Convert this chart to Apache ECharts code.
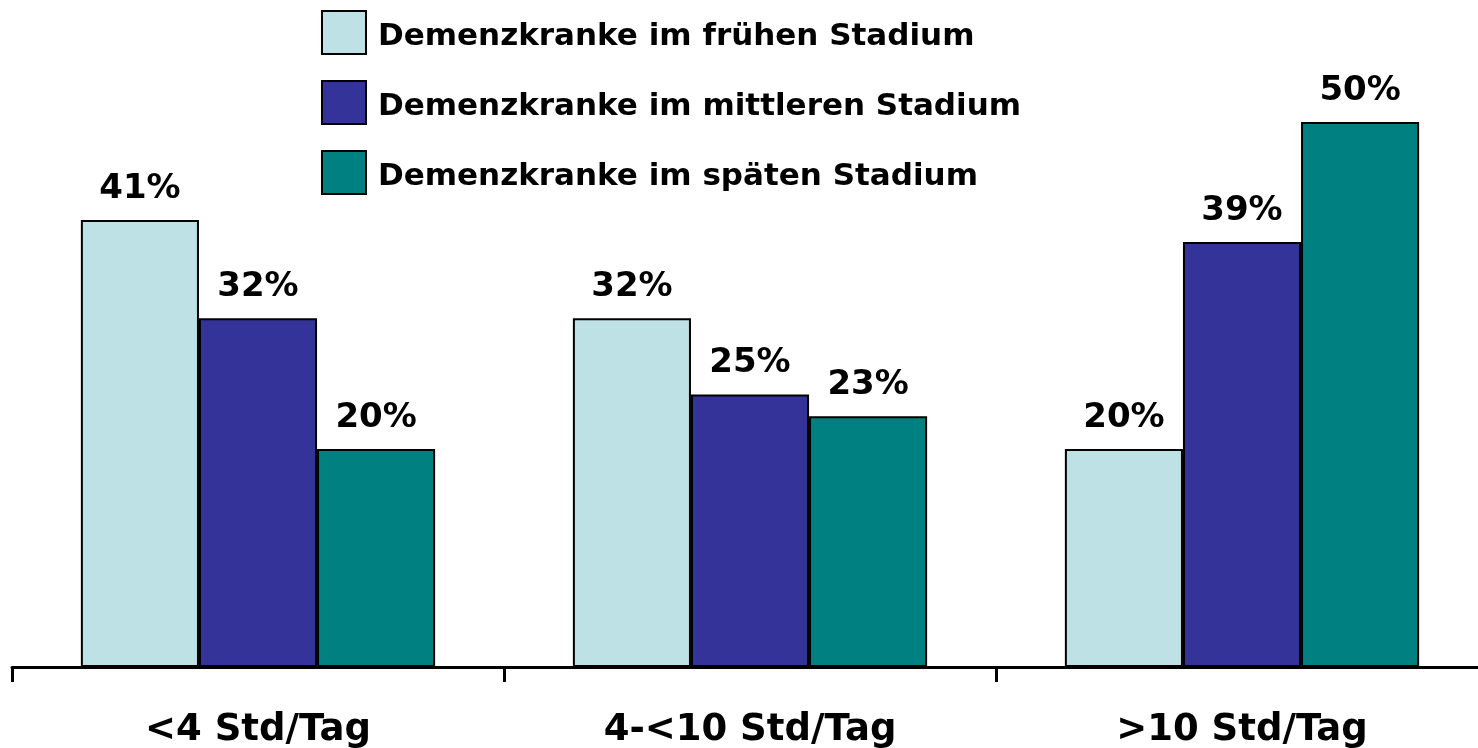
<!DOCTYPE html>
<html>
<head>
<meta charset="utf-8">
<script src="https://cdn.jsdelivr.net/npm/echarts@6/dist/echarts.min.js"></script>
<style>
  html, body { margin: 0; padding: 0; background: #fff; }
  #chart { width: 1478px; height: 748px; }
</style>
</head>
<body>
<div id="chart"></div>
<script>
// Kategorien (Betreuungsstunden pro Tag)
const categories = ['<4 Std/Tag', '4-<10 Std/Tag', '>10 Std/Tag'];

// Serien
const seriesNames = [
    'Demenzkranke im frühen Stadium',
    'Demenzkranke im mittleren Stadium',
    'Demenzkranke im späten Stadium'
];
const earlyValues = [41, 32, 20];
const middleValues = [32, 25, 39];
const lateValues = [20, 23, 50];
const seriesColors = ['#BDE1E4', '#333399', '#008080'];

const fontFamily = '"DejaVu Sans", Verdana, sans-serif';

const chart = echarts.init(document.getElementById('chart'));

function makeSeries(name, values, color) {
    return {
        name: name,
        type: 'bar',
        data: values,
        barGap: '0%',
        barCategoryGap: '28%',
        itemStyle: { color: color, borderColor: '#000', borderWidth: 2 },
        label: {
            show: true,
            position: 'top',
            distance: 14,
            formatter: '{c}%',
            color: '#000',
            fontFamily: fontFamily,
            fontWeight: 'bold',
            fontSize: 34
        }
    };
}

chart.setOption({
    animation: false,
    legend: {
        orient: 'vertical',
        left: 321,
        top: 10,
        padding: 0,
        itemWidth: 44,
        itemHeight: 43,
        itemGap: 25,
        icon: 'rect',
        formatter: '{t|{name}}',
        textStyle: {
            color: '#000',
            fontFamily: fontFamily,
            fontWeight: 'bold',
            fontSize: 31,
            rich: {
                t: {
                    color: '#000',
                    fontFamily: fontFamily,
                    fontWeight: 'bold',
                    fontSize: 31,
                    lineHeight: 34,
                    padding: [9, 0, 0, 7]
                }
            }
        },
        data: seriesNames
    },
    // Rasterbreite 3 x 492 px, rechter Rand läuft über das Bild hinaus
    grid: { left: 12, width: 1476, top: 13, bottom: 81, outerBoundsMode: 'none' },
    xAxis: {
        type: 'category',
        data: categories,
        axisLine: { lineStyle: { color: '#000', width: 3 } },
        axisTick: { show: true, length: 15, lineStyle: { color: '#000', width: 3 } },
        axisLabel: {
            color: '#000',
            fontFamily: fontFamily,
            fontWeight: 'bold',
            fontSize: 37,
            margin: 45
        }
    },
    yAxis: { type: 'value', min: 0, max: 60, show: false },
    series: [
        makeSeries(seriesNames[0], earlyValues, seriesColors[0]),
        makeSeries(seriesNames[1], middleValues, seriesColors[1]),
        makeSeries(seriesNames[2], lateValues, seriesColors[2])
    ]
});
</script>
</body>
</html>
